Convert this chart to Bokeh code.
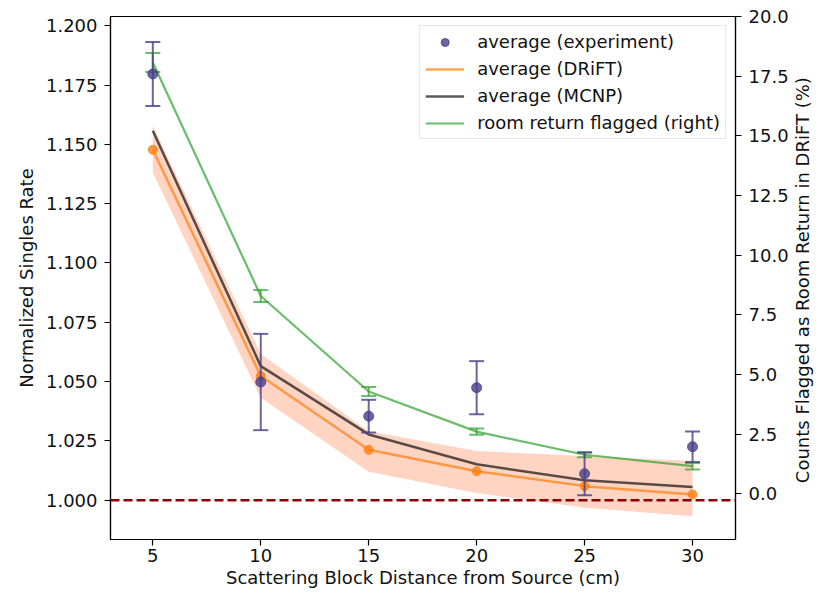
import math
from bokeh.plotting import figure
from bokeh.layouts import row
from bokeh.models import Range1d, LinearAxis, Span, Legend, LegendItem, FixedTicker, NumeralTickFormatter, ColumnDataSource, Label
from bokeh.embed import file_html
from bokeh.resources import INLINE

# ---- data ----
distance = [5, 10, 15, 20, 25, 30]
exp_avg = [1.1797, 1.0498, 1.0354, 1.0474, 1.0111, 1.0225]
exp_err = [0.0135, 0.0203, 0.0069, 0.0112, 0.0090, 0.0064]
drift_avg = [1.1477, 1.0523, 1.0212, 1.0122, 1.0059, 1.0024]
mcnp_avg = [1.1557, 1.0565, 1.0277, 1.0151, 1.0084, 1.0055]
band_upper = [1.1578, 1.0616, 1.0290, 1.0207, 1.0186, 1.0165]
band_lower = [1.1381, 1.0432, 1.0120, 1.0030, 0.9968, 0.9932]
room_return = [18.07, 8.29, 4.29, 2.61, 1.64, 1.16]
room_err = [0.40, 0.25, 0.19, 0.13, 0.10, 0.14]
x_ticks = [5, 10, 15, 20, 25, 30]
left_ticks = [1.000, 1.025, 1.050, 1.075, 1.100, 1.125, 1.150, 1.175, 1.200]
right_ticks = [0.0, 2.5, 5.0, 7.5, 10.0, 12.5, 15.0, 17.5, 20.0]
right_title = "Counts Flagged as Room Return in DRiFT (%)"

FONT = "DejaVu Sans"
FS = "18px"

TOP, FRAME_H, BOTTOM = 16, 523, 50
TOTAL_H = TOP + FRAME_H + BOTTOM

exp_src = ColumnDataSource(dict(
    x=distance, y=exp_avg,
    lo=[a - e for a, e in zip(exp_avg, exp_err)],
    hi=[a + e for a, e in zip(exp_avg, exp_err)]))
room_src = ColumnDataSource(dict(
    x=distance, y=room_return,
    lo=[a - e for a, e in zip(room_return, room_err)],
    hi=[a + e for a, e in zip(room_return, room_err)]))

p = figure(frame_width=625, frame_height=FRAME_H, output_backend="svg", toolbar_location=None,
           x_range=Range1d(3.04, 31.99), y_range=Range1d(0.9834, 1.2039),
           min_border_left=110, min_border_right=57, min_border_top=TOP, min_border_bottom=BOTTOM)
p.extra_y_ranges = {"right": Range1d(-1.91, 20.0)}
p.grid.visible = False
p.outline_line_color = "black"
p.outline_line_width = 1.2
p.background_fill_color = "white"
p.border_fill_color = "white"

# band
p.varea(x=distance, y1=band_lower, y2=band_upper, fill_color="#ffa07a", fill_alpha=0.45)

# dashed reference line
p.add_layout(Span(location=1.0, dimension="width", line_color="#8b0000",
                  line_width=2.5, line_dash="9 4"))

# DRiFT
r_drift = p.line(distance, drift_avg, line_color="#ff7f0e", line_alpha=0.7, line_width=2.5)
p.scatter(distance, drift_avg, size=9, fill_color="#ff7f0e", line_color="#ff7f0e", alpha=0.8)

# MCNP
r_mcnp = p.line(distance, mcnp_avg, line_color="black", line_alpha=0.65, line_width=2.5)

# room return (right)
r_room = p.line("x", "y", source=room_src, y_range_name="right", line_color="#2ca02c",
                line_alpha=0.7, line_width=2.2)
p.segment("x", "lo", "x", "hi", source=room_src, y_range_name="right", line_color="#2ca02c",
          line_alpha=0.7, line_width=2)
p.scatter("x", "lo", source=room_src, y_range_name="right", marker="dash", size=15,
          line_color="#2ca02c", line_alpha=0.7, line_width=2)
p.scatter("x", "hi", source=room_src, y_range_name="right", marker="dash", size=15,
          line_color="#2ca02c", line_alpha=0.7, line_width=2)

# experiment
p.segment("x", "lo", "x", "hi", source=exp_src, line_color="#483d8b", line_alpha=0.8, line_width=2)
p.scatter("x", "lo", source=exp_src, marker="dash", size=15, line_color="#483d8b",
          line_alpha=0.8, line_width=2)
p.scatter("x", "hi", source=exp_src, marker="dash", size=15, line_color="#483d8b",
          line_alpha=0.8, line_width=2)
r_exp = p.scatter("x", "y", source=exp_src, size=10, fill_color="#483d8b", line_color="#483d8b",
                  alpha=0.8)

# axes
def style_axis(ax):
    ax.axis_label_text_font = FONT
    ax.axis_label_text_font_size = FS
    ax.axis_label_text_font_style = "normal"
    ax.axis_label_text_color = "#111111"
    ax.major_label_text_font = FONT
    ax.major_label_text_font_size = FS
    ax.major_label_text_color = "#111111"
    ax.major_tick_out = 6
    ax.major_tick_in = 0
    ax.minor_tick_out = 0
    ax.minor_tick_in = 0
    ax.axis_line_color = "black"
    ax.axis_line_width = 1.2
    ax.major_tick_line_width = 1.2
    ax.major_label_standoff = 7

p.xaxis.ticker = FixedTicker(ticks=x_ticks)
p.xaxis.axis_label = "Scattering Block Distance from Source (cm)"
p.yaxis.ticker = FixedTicker(ticks=left_ticks)
p.yaxis.formatter = NumeralTickFormatter(format="0.000")
p.yaxis.axis_label = "Normalized Singles Rate"
style_axis(p.xaxis[0])
style_axis(p.yaxis[0])
p.xaxis.major_label_standoff = 3
p.xaxis.axis_label_standoff = 2
p.yaxis.axis_label_standoff = 6

ax_r = LinearAxis(y_range_name="right",
                  ticker=FixedTicker(ticks=right_ticks), formatter=NumeralTickFormatter(format="0.0"))
style_axis(ax_r)
p.add_layout(ax_r, "right")

legend = Legend(items=[
    LegendItem(label="average (experiment)", renderers=[r_exp]),
    LegendItem(label="average (DRiFT)", renderers=[r_drift]),
    LegendItem(label="average (MCNP)", renderers=[r_mcnp]),
    LegendItem(label="room return flagged (right)", renderers=[r_room]),
], location="top_right")
legend.label_text_font = FONT
legend.label_text_font_size = FS
legend.label_text_color = "#111111"
legend.glyph_width = 39
legend.glyph_height = 20
legend.label_height = 20
legend.label_standoff = 13
legend.spacing = 6
legend.padding = 5
legend.margin = 9
legend.border_line_color = "#cccccc"
legend.border_line_width = 1
legend.background_fill_alpha = 0.8
p.add_layout(legend)

# narrow strip holding the right axis title (reads bottom-to-top)
p2 = figure(width=24, height=TOTAL_H, output_backend="svg", toolbar_location=None,
            x_range=Range1d(0, 1), y_range=Range1d(0, TOTAL_H),
            x_axis_type=None, y_axis_type=None,
            min_border_left=0, min_border_right=0, min_border_top=0, min_border_bottom=0)
p2.grid.visible = False
p2.outline_line_color = None
p2.background_fill_color = "white"
p2.border_fill_color = "white"
p2.add_layout(Label(x=0.4, y=TOTAL_H - (TOP + FRAME_H / 2) - 20, text=right_title, angle=math.pi / 2,
                    text_align="center", text_baseline="middle",
                    text_font=FONT, text_font_size=FS, text_color="#111111"))

layout = row(p, p2, spacing=0)
open("out.html", "w").write(file_html(layout, INLINE))
